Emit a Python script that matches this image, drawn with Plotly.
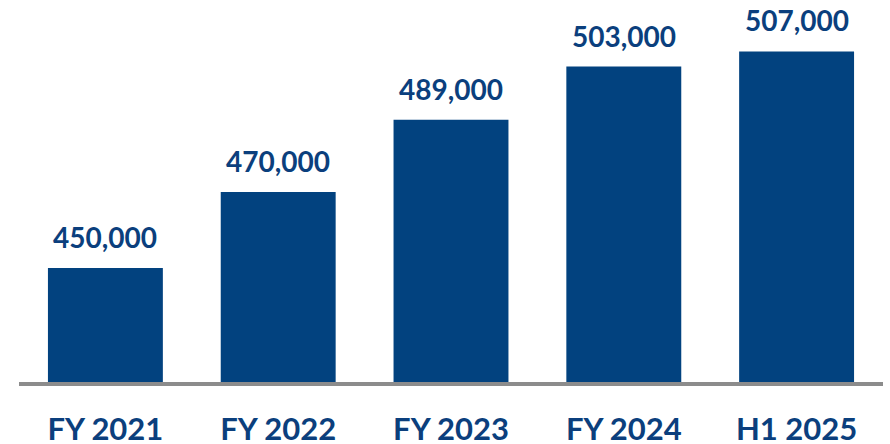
import plotly.graph_objects as go

categories = ["FY 2021", "FY 2022", "FY 2023", "FY 2024", "H1 2025"]
values = [450000, 470000, 489000, 503000, 507000]
value_labels = ["450,000", "470,000", "489,000", "503,000", "507,000"]

BAR = "#02427F"
TXT = "#0B3F7D"
FONT = "Lato"

fig = go.Figure()
fig.add_trace(go.Bar(x=categories, y=values, marker=dict(color=BAR, line=dict(width=0)),
                     hoverinfo="skip"))

for c, v, t in zip(categories, values, value_labels):
    fig.add_annotation(x=c, y=v, text="<b>%s</b>" % t, showarrow=False,
                       yanchor="bottom", yshift=12,
                       font=dict(family=FONT, size=28, color=TXT))

fig.update_layout(
    width=890, height=444,
    margin=dict(l=19, r=7, t=10, b=62, autoexpand=False),
    paper_bgcolor="white", plot_bgcolor="white",
    bargap=0.335, showlegend=False,
    xaxis=dict(showline=True, linecolor="#8C8C8C", linewidth=4, ticks="",
               tickfont=dict(family=FONT, size=31, color=TXT, weight="bold"),
               ticklabelstandoff=17, showgrid=False, fixedrange=True, automargin=False),
    yaxis=dict(range=[420000, 517900], visible=False, showgrid=False, fixedrange=True,
               automargin=False),
)

fig.write_html("out.html", config={"displayModeBar": False})
